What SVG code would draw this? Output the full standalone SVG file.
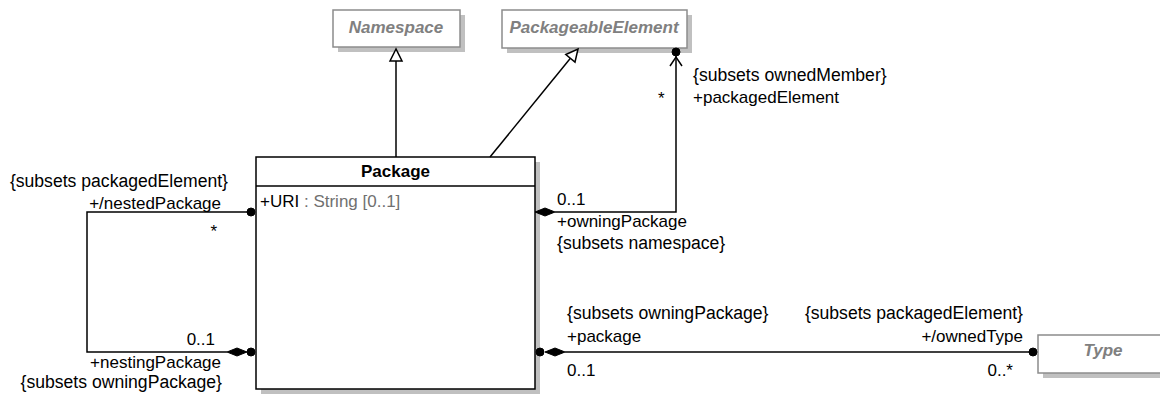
<svg xmlns="http://www.w3.org/2000/svg" width="1160" height="394" viewBox="0 0 1160 394">
<style>
text{font-family:"Liberation Sans",Arial,sans-serif;font-size:17px;fill:#000}
.br{font-size:17.6px}
.abs{fill:#fff;stroke:#8c8c8c;stroke-width:1.5}
.shadow{fill:#c0c0c0}
.aname{font-weight:bold;font-style:italic;fill:#808080;text-anchor:middle}
.end{text-anchor:end}
.ln{fill:none;stroke:#000;stroke-width:1.5}
.fill{fill:#000;stroke:#000;stroke-width:1}
.tri{fill:#fff;stroke:#000;stroke-width:1.5}
.gray{fill:#707070}
</style>
<rect width="1160" height="394" fill="#fff"/>
<g id="Namespace">
<rect class="shadow" x="338" y="15" width="127" height="37"/>
<rect class="abs" x="333" y="10" width="127" height="37"/>
<text class="aname" x="396" y="33">Namespace</text>
</g>
<g id="PackageableElement">
<rect class="shadow" x="507" y="15" width="185" height="38"/>
<rect class="abs" x="502" y="10" width="185" height="38"/>
<text class="aname" x="594" y="33">PackageableElement</text>
</g>
<g id="Type">
<rect class="shadow" x="1043" y="340" width="130" height="38"/>
<rect class="abs" x="1038" y="335" width="130" height="38"/>
<text class="aname" x="1103" y="356">Type</text>
</g>
<g id="Package">
<rect class="shadow" x="261" y="162" width="279" height="232"/>
<rect x="256" y="157" width="279" height="232" fill="#fff" stroke="#000" stroke-width="1.5"/>
<line x1="256" y1="186" x2="535" y2="186" stroke="#000" stroke-width="1.5"/>
<text x="395.5" y="177" font-weight="bold" text-anchor="middle">Package</text>
<text x="260" y="207">+URI<tspan class="gray"> : String [0..1]</tspan></text>
</g>
<g id="connectors">
<line class="ln" x1="396" y1="157" x2="396" y2="61"/>
<polygon class="tri" points="396,49 390,61 402,61"/>
<line class="ln" x1="490" y1="157" x2="570.4" y2="58.3"/>
<polygon class="tri" points="578,49 575,62.1 565.8,54.5"/>
<polyline class="ln" points="555,212 676,212 676,56"/>
<polygon class="fill" points="535,212 545,208 555,212 545,216"/>
<circle class="fill" cx="676" cy="52" r="4"/>
<polyline class="ln" points="670,66 676,57 682,66"/>
<polyline class="ln" points="251,212 87,212 87,352 227,352"/>
<circle class="fill" cx="251" cy="212" r="4"/>
<polygon class="fill" points="227,352 237,348 247,352 237,356"/>
<circle class="fill" cx="251" cy="352" r="4"/>
<line class="ln" x1="565" y1="352" x2="1033" y2="352"/>
<circle class="fill" cx="540" cy="352" r="4"/>
<polygon class="fill" points="545,352 555,348 565,352 555,356"/>
<circle class="fill" cx="1033" cy="352" r="4"/>
</g>
<g id="labels">
<text class="br end" x="228" y="187">{subsets packagedElement}</text>
<text class="end" x="221" y="209">+/nestedPackage</text>
<text class="end" x="217" y="237">*</text>
<text class="end" x="215" y="345">0..1</text>
<text class="end" x="221" y="368">+nestingPackage</text>
<text class="br end" x="222" y="388">{subsets owningPackage}</text>
<text class="br" x="693" y="81">{subsets ownedMember}</text>
<text x="693" y="103">+packagedElement</text>
<text x="658" y="104">*</text>
<text x="557" y="205">0..1</text>
<text x="557" y="227">+owningPackage</text>
<text class="br" x="557" y="249">{subsets namespace}</text>
<text class="br" x="567" y="319">{subsets owningPackage}</text>
<text x="567" y="342">+package</text>
<text x="567" y="376">0..1</text>
<text class="br end" x="1023" y="319">{subsets packagedElement}</text>
<text class="end" x="1023" y="342">+/ownedType</text>
<text class="end" x="1013" y="376">0..*</text>
</g>
</svg>
